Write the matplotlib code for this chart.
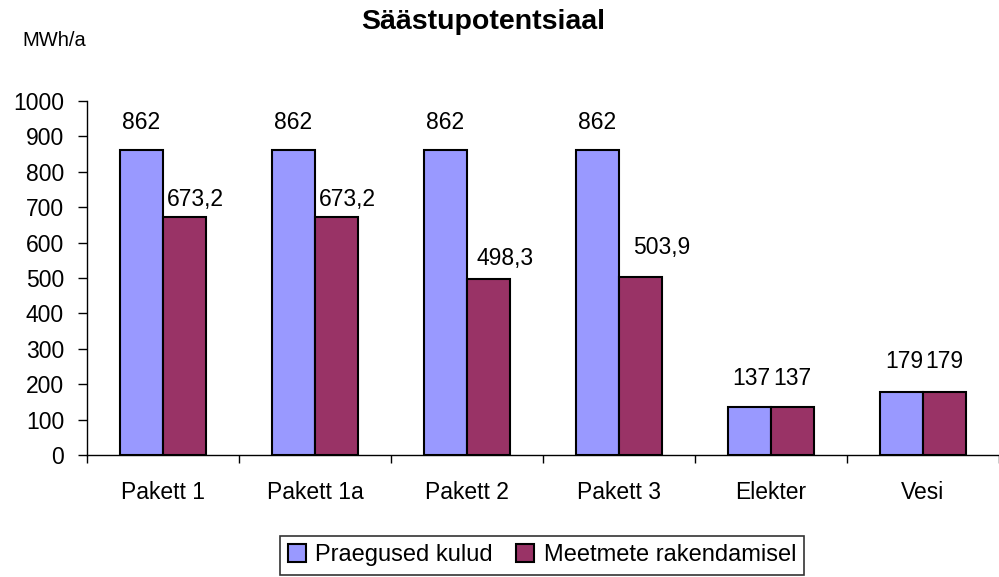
import matplotlib
matplotlib.use('Agg')
import matplotlib.pyplot as plt
import numpy as np

# andmed
kategooriad = ['Pakett 1', 'Pakett 1a', 'Pakett 2', 'Pakett 3', 'Elekter', 'Vesi']
praegused = [862, 862, 862, 862, 137, 179]
meetmed = [673.2, 673.2, 498.3, 503.9, 137, 179]
seeria_nimed = ['Praegused kulud', 'Meetmete rakendamisel']

# siltide nihked pikslites (x, y)
nihe_praegused = [(0, 27), (0, 27), (0, 27), (0, 27), (2, 28), (3, 30)]
nihe_meetmed = [(11, 17), (11, 17), (16, 20), (21, 29), (0, 28), (0, 30)]

plt.rcParams['font.family'] = ['Liberation Sans', 'DejaVu Sans']

fig = plt.figure(figsize=(9.99, 5.77), dpi=100)
ax = fig.add_axes([87 / 999, 1 - 455 / 577, 1 - 87 / 999, (455 - 101) / 577])

x = np.arange(len(kategooriad))
w = 0.285
b1 = ax.bar(x - w / 2, praegused, w, color='#9999FF', edgecolor='black', linewidth=1.5, label=seeria_nimed[0])
b2 = ax.bar(x + w / 2, meetmed, w, color='#993366', edgecolor='black', linewidth=1.5, label=seeria_nimed[1])


def vorming(v):
    if float(v).is_integer():
        return str(int(v))
    return ('%.1f' % v).replace('.', ',')


for rect, v, (dx, dy) in zip(b1, praegused, nihe_praegused):
    ax.annotate(vorming(v), (rect.get_x() + rect.get_width() / 2, v), xytext=(dx, dy),
                textcoords='offset pixels', ha='center', va='center', fontsize=16.5)
for rect, v, (dx, dy) in zip(b2, meetmed, nihe_meetmed):
    ax.annotate(vorming(v), (rect.get_x() + rect.get_width() / 2, v), xytext=(dx, dy),
                textcoords='offset pixels', ha='center', va='center', fontsize=16.5)

ax.set_xlim(-0.5, len(kategooriad) - 0.5)
ax.set_ylim(0, 1000)
ax.set_yticks(np.arange(0, 1001, 100))
ax.tick_params(axis='y', length=6.5, width=1.0, pad=10, labelsize=16.5)

ax.set_xticks(x)
ax.set_xticklabels(kategooriad)
ax.tick_params(axis='x', which='major', length=0, pad=19, labelsize=16.5)
ax.set_xticks(np.arange(-0.5, len(kategooriad)), minor=True)
ax.tick_params(axis='x', which='minor', length=6, width=1.0)

for s in ['top', 'right']:
    ax.spines[s].set_visible(False)
for s in ['left', 'bottom']:
    ax.spines[s].set_linewidth(1.0)

fig.text(483 / 999, 1 - 22 / 577, 'Säästupotentsiaal', ha='center', va='center',
         fontsize=20.5, fontweight='bold')
fig.text(22 / 999, 1 - 41 / 577, 'MWh/a', ha='left', va='center', fontsize=14.5)

leg = fig.legend(loc='upper center', bbox_to_anchor=(542 / 999, 1 - 536 / 577), ncol=2,
                 fontsize=17, frameon=True, fancybox=False, edgecolor='black',
                 handlelength=0.75, handleheight=0.75, handletextpad=0.4, columnspacing=1.0,
                 borderpad=0.35, borderaxespad=0)
leg.get_frame().set_linewidth(1.2)

fig.savefig('out.png', dpi=100)
